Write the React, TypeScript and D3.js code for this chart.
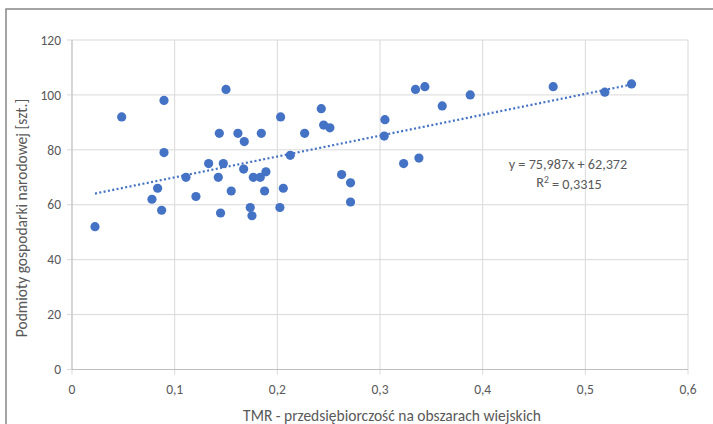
import React from "react";
import * as d3 from "d3";

const tmr = [
  0.0224, 0.0484, 0.0779, 0.0834, 0.0873, 0.0896, 0.0896, 0.111, 0.1207, 0.1331,
  0.1425, 0.1435, 0.1447, 0.1474, 0.150, 0.1551, 0.1616, 0.1672, 0.1678, 0.1736,
  0.1753, 0.1766, 0.1834, 0.1844, 0.1876, 0.1889, 0.2025, 0.2032, 0.2058, 0.2126,
  0.2266, 0.2428, 0.2451, 0.2512, 0.2626, 0.2713, 0.2713, 0.3041, 0.3048, 0.323,
  0.3346, 0.3379, 0.3437, 0.3606, 0.3879, 0.4687, 0.519, 0.545,
];
const podmioty = [
  52, 92, 62, 66, 58, 98, 79, 70, 63, 75,
  70, 86, 57, 75, 102, 65, 86, 73, 83, 59,
  56, 70, 70, 86, 65, 72, 59, 92, 66, 78,
  86, 95, 89, 88, 71, 68, 61, 85, 91, 75,
  102, 77, 103, 96, 100, 103, 101, 104,
];
const xTicks = [0, 0.1, 0.2, 0.3, 0.4, 0.5, 0.6];
const yTicks = [0, 20, 40, 60, 80, 100, 120];
const slope = 75.987;
const intercept = 62.372;
const equationText = "y = 75,987x + 62,372";
const r2Value = "0,3315";
const xTitle = "TMR - przedsiębiorczość na obszarach wiejskich";
const yTitle = "Podmioty gospodarki narodowej [szt.]";

const W = 713;
const H = 424;
const FONT = "Calibri, Carlito, Lato, 'Open Sans', 'Noto Sans', sans-serif";

export default function App() {
  const x = d3.scaleLinear().domain([0, 0.6]).range([72, 688]);
  const y = d3.scaleLinear().domain([0, 120]).range([369.5, 40]);
  const fmt = (v: number) => (v === 0 ? "0" : String(v).replace(".", ","));
  const xMin = d3.min(tmr) as number;
  const xMax = d3.max(tmr) as number;
  const trend = d3
    .line<number>()
    .x((d) => x(d))
    .y((d) => y(slope * d + intercept));
  const grid = "#d9d9d9";
  const textCol = "#595959";
  return (
    <svg
      width={W}
      height={H}
      style={{ position: "absolute", left: 0, top: 0, background: "#fff" }}
      fontFamily={FONT}
    >
      <rect x={0} y={0} width={W} height={H} fill="#fff" />
      <rect x={6} y={9} width={W + 10} height={H + 10} fill="none" stroke="#868686" strokeWidth={1.5} />
      {yTicks.map((t) => (
        <g key={"y" + t}>
          <line x1={67} x2={x(0.6)} y1={y(t)} y2={y(t)} stroke={grid} strokeWidth={1} />
          <text x={61} y={y(t)} dy="0.35em" textAnchor="end" fontSize={13.5} fill={textCol}>
            {t}
          </text>
        </g>
      ))}
      {xTicks.map((t) => (
        <g key={"x" + t}>
          <line x1={x(t)} x2={x(t)} y1={y(120)} y2={y(0) + 5} stroke={grid} strokeWidth={1} />
          <text x={x(t)} y={389} dy="0.35em" textAnchor="middle" fontSize={13.5} fill={textCol}>
            {fmt(t)}
          </text>
        </g>
      ))}
      <line x1={x(0)} x2={x(0.6)} y1={y(0)} y2={y(0)} stroke="#bfbfbf" strokeWidth={1} />
      <line x1={x(0)} x2={x(0)} y1={y(0)} y2={y(120)} stroke="#bfbfbf" strokeWidth={1} />
      {tmr.map((v, i) => (
        <circle key={i} cx={x(v)} cy={y(podmioty[i])} r={4.6} fill="#4472C4" />
      ))}
      <path
        d={trend([xMin, xMax]) || ""}
        fill="none"
        stroke="#4472C4"
        strokeWidth={2.2}
        strokeDasharray="2 2.4"
      />
      <text x={568} y={164} dy="0.35em" textAnchor="middle" fontSize={14.2} fill={textCol}>
        {equationText}
      </text>
      <text x={569} y={182} dy="0.35em" textAnchor="middle" fontSize={14.2} fill={textCol}>
        R
        <tspan fontSize={9.5} dy="-0.45em">2</tspan>
        <tspan dy="0.45em">{" = " + r2Value}</tspan>
      </text>
      <text x={392} y={421} textAnchor="middle" fontSize={15.5} fill={textCol}>
        {xTitle}
      </text>
      <text
        transform={`translate(22, ${218}) rotate(-90)`}
        dy="0.35em"
        textAnchor="middle"
        fontSize={15.5}
        fill={textCol}
      >
        {yTitle}
      </text>
    </svg>
  );
}
